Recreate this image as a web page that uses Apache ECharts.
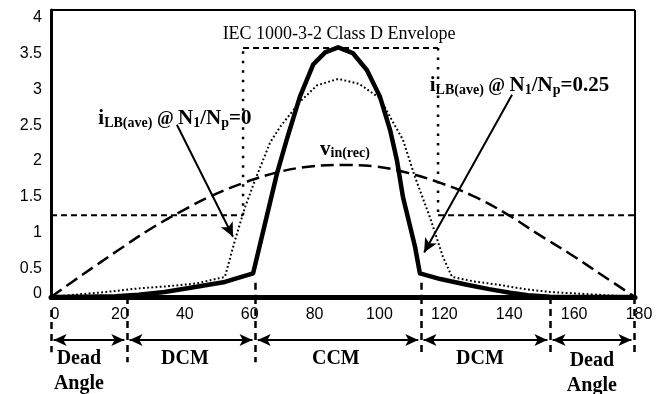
<!DOCTYPE html>
<html><head><meta charset="utf-8">
<script src="https://cdn.jsdelivr.net/npm/echarts@6/dist/echarts.min.js"></script>
<style>html,body{margin:0;padding:0;background:#fff}#c{width:664px;height:394px}</style>
</head><body><div id="c"></div>
<script>
// ---- data (angle in degrees, value) ----
const xTicks = [0, 20, 40, 60, 80, 100, 120, 140, 160, 180];
const yTicks = [0, 0.5, 1, 1.5, 2, 2.5, 3, 3.5, 4];

const vinX = [0, 10, 20, 30, 40, 50, 60, 70, 80, 90, 100, 110, 120, 130, 140, 150, 160, 170, 180];
const vinY = [0, 0.32, 0.63, 0.93, 1.19, 1.42, 1.60, 1.74, 1.82, 1.84, 1.82, 1.73, 1.59, 1.41, 1.17, 0.88, 0.60, 0.30, 0];

const iLB025X = [0, 10, 20, 27, 35, 43, 53.6, 62.3, 69.7, 72.7, 76.7, 80.8, 84.5, 88.5, 93, 97.4, 101.4, 104.5, 106.6, 108.5, 112.2, 113.7, 120, 128.2, 135, 141.5, 147, 153.8, 180];
const iLB025Y = [0, 0.003, 0.012, 0.03, 0.07, 0.13, 0.21, 0.33, 1.73, 2.2, 2.79, 3.24, 3.41, 3.48, 3.40, 3.16, 2.79, 2.33, 1.91, 1.39, 0.70, 0.33, 0.25, 0.17, 0.11, 0.06, 0.025, 0.005, 0];

const iLB0X = [0, 7, 17, 27, 36, 45, 53.6, 56.7, 59.8, 62.9, 67.5, 70.6, 76.7, 82, 88.5, 95, 101.4, 104.5, 108.5, 112.2, 116.8, 120.8, 123.6, 130, 138, 146, 153.8, 169.2, 180];
const iLB0Y = [0, 0.03, 0.07, 0.12, 0.15, 0.19, 0.28, 0.79, 1.25, 1.63, 2.15, 2.37, 2.72, 2.95, 3.04, 2.97, 2.77, 2.51, 2.19, 1.67, 1.11, 0.56, 0.28, 0.22, 0.17, 0.11, 0.07, 0.03, 0];

const envX = [0, 59.2, 59.2, 119.3, 119.3, 180];
const envY = [1.14, 1.14, 3.47, 3.47, 1.14, 1.14];

// operating-mode regions (degrees)
const regionEdges = [0, 23.4, 62.9, 114.0, 153.8, 179.7];
const regionNames = ['Dead\nAngle', 'DCM', 'CCM', 'DCM', 'Dead\nAngle'];

// ---- helpers ----
const zip = (xs, ys) => xs.map((x, i) => [x, ys[i]]);
const envH = [[envX[0], envY[0]], [envX[1], envY[1]], [envX[1], '-'],
              [envX[2], envY[2]], [envX[3], envY[3]], [envX[3], '-'],
              [envX[4], envY[4]], [envX[5], envY[5]]];
const envV = [[envX[1], envY[1]], [envX[2], envY[2]], [envX[2], '-'],
              [envX[3], envY[3]], [envX[4], envY[4]]];

const SERIF = "'Liberation Serif','Times New Roman',serif";
const SANS = "'Liberation Sans',Arial,sans-serif";
const rich = {
  m: {fontFamily: SERIF, fontWeight: 'bold', fontSize: 21, lineHeight: 22, color: '#000'},
  a: {fontFamily: SERIF, fontWeight: 'bold', fontSize: 18, lineHeight: 22, color: '#000'},
  s: {fontFamily: SERIF, fontWeight: 'bold', fontSize: 14, lineHeight: 12, verticalAlign: 'bottom', color: '#000'}
};

// lower (annotation) panel, same x scale, y in the same units below zero
const boundStart = [-0.18, 0, 0, 0, 0, 0];
const boundBot = [-0.77, -0.91, -0.91, -0.81, -0.77, -0.81];
const boundLines = regionEdges.map((x, i) => [
  {coord: [x, boundStart[i]]}, {coord: [x, boundBot[i]]}
]);
const boundTicksUp = [[{coord: [regionEdges[2], 0.2]}, {coord: [regionEdges[2], 0]}],
                      [{coord: [regionEdges[3], 0.2]}, {coord: [regionEdges[3], 0]}]];
const arrowY = -0.6;
const gap = 0.8;
const spanLines = regionNames.map((n, i) => [
  {coord: [regionEdges[i] + gap, arrowY]}, {coord: [regionEdges[i + 1] - gap, arrowY]}
]);
const regionLabelY = [-1.03, -0.86, -0.86, -0.86, -1.07];
const regionLabelX = [8.6, 41.3, 87.8, 132.2, 166.7];

const chart = echarts.init(document.getElementById('c'), null, {renderer: 'canvas'});
const low = {xAxisIndex: 1, yAxisIndex: 1};
const yl = {fontFamily: SANS, fontSize: 16, color: '#000'};
chart.setOption({
  animation: false,
  backgroundColor: '#fff',
  grid: [
    {left: 51, top: 10, width: 584, height: 287, containLabel: false, outerBoundsMode: 'none'},
    {left: 51, top: 297, width: 584, height: 96.86, containLabel: false, outerBoundsMode: 'none'}
  ],
  xAxis: [{
    gridIndex: 0, type: 'value', min: 0, max: 180, interval: 20,
    axisLine: {show: true, onZero: false, lineStyle: {color: '#000', width: 5}},
    axisTick: {show: false}, splitLine: {show: false},
    axisLabel: {fontFamily: SANS, fontSize: 16, color: '#000', margin: 10, padding: [0, 0, 0, 8],
      formatter: v => xTicks.includes(v) ? String(v) : ''}
  }, {
    gridIndex: 1, type: 'value', min: 0, max: 180, show: false
  }],
  yAxis: [{
    gridIndex: 0, type: 'value', min: 0, max: 4, interval: 0.5,
    axisLine: {show: true, lineStyle: {color: '#000', width: 3}}, axisTick: {show: false}, splitLine: {show: false},
    axisLabel: {fontFamily: SANS, fontSize: 16, color: '#000', margin: 9,
      formatter: v => yTicks.includes(v) ? (v === 0 ? '{z|0}' : '{n|' + v + '}') : '',
      rich: {n: Object.assign({padding: [15, 0, 0, 0]}, yl), z: Object.assign({padding: [0, 0, 6, 0]}, yl)}}
  }, {
    gridIndex: 1, type: 'value', min: -1.35, max: 0, show: false
  }],
  series: [
    {name: 'frame', type: 'line', data: [], silent: true,
      markLine: {silent: true, symbol: ['none', 'none'], label: {show: false},
        lineStyle: {color: '#000', type: 'solid', width: 2},
        data: [
          [{coord: [0, 4]}, {coord: [180, 4]}],
          [{coord: [180, 4]}, {coord: [180, 0]}]
        ]}},
    {name: 'envH', type: 'line', data: envH, showSymbol: false, silent: true,
      lineStyle: {color: '#000', width: 2, type: [6, 4]}},
    {name: 'envV', type: 'line', data: envV, showSymbol: false, silent: true,
      lineStyle: {color: '#000', width: 2.5, type: [2.5, 7]}},
    {name: 'vin', type: 'line', data: zip(vinX, vinY), showSymbol: false, smooth: 0.4, silent: true,
      lineStyle: {color: '#000', width: 2.5, type: [13, 6]}},
    {name: 'iLB0', type: 'line', data: zip(iLB0X, iLB0Y), showSymbol: false, silent: true,
      lineStyle: {color: '#000', width: 2, type: [1.8, 2.4]}},
    {name: 'iLB025', type: 'line', data: zip(iLB025X, iLB025Y), showSymbol: false, silent: true,
      lineStyle: {color: '#000', width: 4.5, join: 'round'}},
    {name: 'boundsUp', type: 'line', data: [], silent: true,
      markLine: {silent: true, symbol: ['none', 'none'], label: {show: false},
        lineStyle: {color: '#000', type: [7, 5], width: 2.5}, data: boundTicksUp}},
    {name: 'pointers', type: 'line', data: [], silent: true,
      markLine: {silent: true, symbol: ['none', 'arrow'], symbolSize: [10, 14], label: {show: false},
        lineStyle: {color: '#000', type: 'solid', width: 2},
        data: [
          [{coord: [38.8, 2.40]}, {coord: [56.1, 0.84]}],
          [{coord: [142.1, 2.82]}, {coord: [115.0, 0.62]}]
        ]}},
    {name: 'labels', type: 'line', data: [], silent: true,
      markPoint: {silent: true, symbol: 'circle', symbolSize: 0,
        label: {show: true, position: 'inside', color: '#000', rich: rich},
        data: [
          {coord: [88.8, 3.66], label: {formatter: 'IEC 1000-3-2 Class D Envelope', fontFamily: SERIF, fontSize: 18, fontWeight: 'normal', color: '#000'}},
          {coord: [38.2, 2.48], label: {formatter: '{m|i}{s|LB(ave)}{a| @ }{m|N}{s|1}{m|/N}{s|p}{m|=0}'}},
          {coord: [144.4, 2.94], label: {formatter: '{m|i}{s|LB(ave)}{a| @ }{m|N}{s|1}{m|/N}{s|p}{m|=0.25}'}},
          {coord: [90.6, 2.06], label: {formatter: '{m|v}{s|in(rec)}'}}
        ]}},
    Object.assign({name: 'bounds', type: 'line', data: [], silent: true,
      markLine: {silent: true, symbol: ['none', 'none'], label: {show: false},
        lineStyle: {color: '#000', type: [7, 5], width: 2.5}, data: boundLines}}, low),
    Object.assign({name: 'spans', type: 'line', data: [], silent: true,
      markLine: {silent: true, symbol: ['arrow', 'arrow'], symbolSize: [9, 13], label: {show: false},
        lineStyle: {color: '#000', type: 'solid', width: 2}, data: spanLines}}, low),
    Object.assign({name: 'regionLabels', type: 'line', data: [], silent: true,
      markPoint: {silent: true, symbol: 'circle', symbolSize: 0,
        data: regionNames.map((n, i) => ({
          coord: [regionLabelX[i], regionLabelY[i]],
          label: {show: true, position: 'inside', formatter: n, fontFamily: SERIF, fontWeight: 'bold', fontSize: 20, lineHeight: 25, color: '#000', align: 'center'}
        }))}}, low)
  ]
});
</script></body></html>
